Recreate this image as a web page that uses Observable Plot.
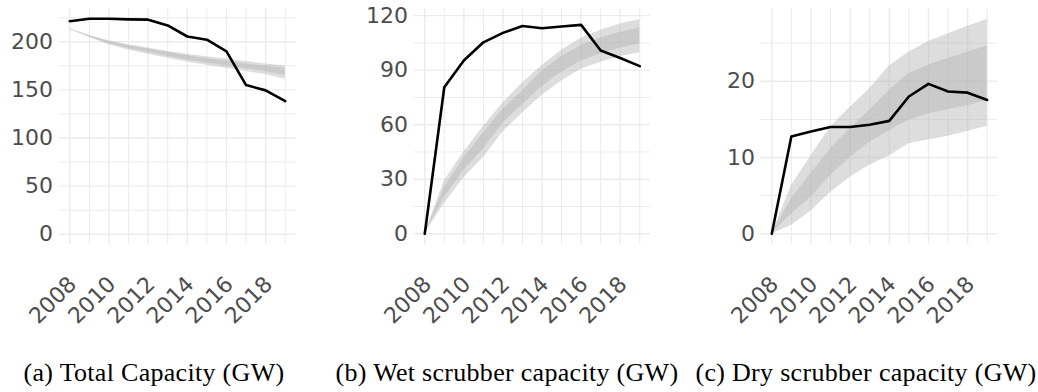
<!DOCTYPE html>
<html><head><meta charset="utf-8">
<script src="https://cdn.jsdelivr.net/npm/d3@7"></script>
<script src="https://cdn.jsdelivr.net/npm/@observablehq/plot@0.6"></script>
<style>
html,body{margin:0;padding:0;background:#fff}
body{width:1038px;height:392px;position:relative;overflow:hidden}
.panel{position:absolute;top:0}
.cap{position:absolute;top:358px;font-family:"Liberation Serif","DejaVu Serif",serif;font-size:26px;line-height:30px;letter-spacing:0.3px;white-space:nowrap;color:#000;transform:translateX(-50%)}
</style></head><body>
<script>
// ---- data ----
const years = [2008,2009,2010,2011,2012,2013,2014,2015,2016,2017,2018,2019];
const labelYears = [2008,2010,2012,2014,2016,2018];
const minorYears = [2009,2011,2013,2015,2017,2019];

// (a) Total capacity (GW)
const totalActual  = [221.4,223.9,224.0,223.3,223.0,217.0,205.5,202.2,190.0,155.0,149.5,138.3];
const totalOuterHi = [213.5,206.5,201.0,197.0,193.5,190.0,187.0,184.5,182.0,179.5,177.0,175.0];
const totalInnerHi = [213.5,206.0,200.0,196.0,192.5,189.0,185.5,182.5,180.0,177.0,174.5,172.5];
const totalInnerLo = [213.0,205.0,198.0,193.0,189.0,185.0,181.0,178.0,175.0,172.0,169.0,165.0];
const totalOuterLo = [213.0,204.5,197.0,191.5,187.0,183.0,179.0,175.5,172.5,169.0,166.0,161.0];
const totalMajor = [0,50,100,150,200];
const totalMinor = [25,75,125,175,225];

// (b) Wet scrubber capacity (GW)
const wetActual  = [0,80.6,95.3,105.3,110.5,114.3,113.0,114.0,114.9,100.8,96.7,92.2];
const wetOuterHi = [0,29.0,45.0,59.0,72.0,83.0,92.5,101.0,107.5,112.0,115.4,117.8];
const wetInnerHi = [0,25.5,41.5,55.5,68.5,78.5,89.5,97.5,103.5,107.7,110.8,113.2];
const wetInnerLo = [0,20.0,34.8,46.7,61.0,71.0,81.0,89.0,95.0,99.0,102.2,104.4];
const wetOuterLo = [0,16.5,30.8,42.0,56.0,66.5,76.0,84.0,90.5,94.3,97.5,99.5];
const wetMajor = [0,30,60,90,120];
const wetMinor = [15,45,75,105];

// (c) Dry scrubber capacity (GW)
const dryActual  = [0,12.75,13.4,14.0,14.0,14.3,14.8,18.0,19.65,18.65,18.5,17.55];
const dryOuterHi = [0,6.3,10.2,14.0,16.6,19.0,22.0,23.8,25.2,26.2,27.2,28.1];
const dryInnerHi = [0,4.6,7.9,11.1,13.8,16.2,18.8,21.0,22.1,23.0,23.8,24.6];
const dryInnerLo = [0,2.6,4.8,7.6,10.0,12.0,13.5,14.9,15.7,16.3,16.8,17.5];
const dryOuterLo = [0,1.1,3.0,5.4,7.4,9.0,10.2,11.8,12.3,12.8,13.4,14.1];
const dryMajor = [0,10,20];
const dryMinor = [5,15,25];

const captions = ["(a) Total Capacity (GW)", "(b) Wet scrubber capacity (GW)", "(c) Dry scrubber capacity (GW)"];

// ---- drawing ----
const axisFont = "'DejaVu Sans', 'Liberation Sans', sans-serif";
function makePanel(cfg) {
  const data = years.map((year, i) => ({
    year, actual: cfg.actual[i], oLo: cfg.oLo[i], oHi: cfg.oHi[i], iLo: cfg.iLo[i], iHi: cfg.iHi[i]
  }));
  const grid = {stroke: "#ebebeb", strokeOpacity: 1};
  const svg = Plot.plot({
    width: 346, height: 340,
    marginTop: 8, marginBottom: 96, marginLeft: cfg.marginLeft, marginRight: cfg.marginRight,
    style: {fontFamily: axisFont, background: "transparent", overflow: "visible"},
    x: {domain: [2007.45, 2019.55]},
    y: {domain: cfg.yDomain},
    marks: [
      Plot.gridY(cfg.minor, {...grid, strokeWidth: 1}),
      Plot.gridY(cfg.major, {...grid, strokeWidth: 1.4}),
      Plot.gridX(minorYears, {...grid, strokeWidth: 1}),
      Plot.gridX(labelYears, {...grid, strokeWidth: 1.4}),
      Plot.areaY(data, {x: "year", y1: "oLo", y2: "oHi", fill: "#b3b3b3", fillOpacity: 0.45}),
      Plot.areaY(data, {x: "year", y1: "iLo", y2: "iHi", fill: "#b3b3b3", fillOpacity: 0.45}),
      Plot.lineY(data, {x: "year", y: "actual", stroke: "#000", strokeWidth: 2.6}),
      Plot.axisY(cfg.major, {tickSize: 0, tickPadding: 6, fontSize: 22, fontFamily: axisFont, fill: "#4d4d4d", label: null}),
      Plot.axisX(labelYears, {tickSize: 0, tickRotate: -45, tickPadding: 36, dx: 3, fontSize: 22, fontFamily: axisFont,
        fill: "#4d4d4d", tickFormat: d => String(d), label: null})
    ]
  });
  const div = document.createElement("div");
  div.className = "panel";
  div.style.left = cfg.left + "px";
  div.appendChild(svg);
  document.body.appendChild(div);
  const cap = document.createElement("div");
  cap.className = "cap";
  cap.style.left = cfg.capX + "px";
  cap.textContent = cfg.caption;
  document.body.appendChild(cap);
}

makePanel({left: 0, marginLeft: 58.5, marginRight: 50.5, yDomain: [-10.7, 234.6],
  major: totalMajor, minor: totalMinor, actual: totalActual,
  oLo: totalOuterLo, oHi: totalOuterHi, iLo: totalInnerLo, iHi: totalInnerHi,
  caption: captions[0], capX: 154});
makePanel({left: 346, marginLeft: 67.5, marginRight: 42, yDomain: [-5.88, 123.9],
  major: wetMajor, minor: wetMinor, actual: wetActual,
  oLo: wetOuterLo, oHi: wetOuterHi, iLo: wetInnerLo, iHi: wetInnerHi,
  caption: captions[1], capX: 507});
makePanel({left: 692, marginLeft: 68.5, marginRight: 40.5, yDomain: [-1.40, 29.53],
  major: dryMajor, minor: dryMinor, actual: dryActual,
  oLo: dryOuterLo, oHi: dryOuterHi, iLo: dryInnerLo, iHi: dryInnerHi,
  caption: captions[2], capX: 866});
</script>
</body></html>
